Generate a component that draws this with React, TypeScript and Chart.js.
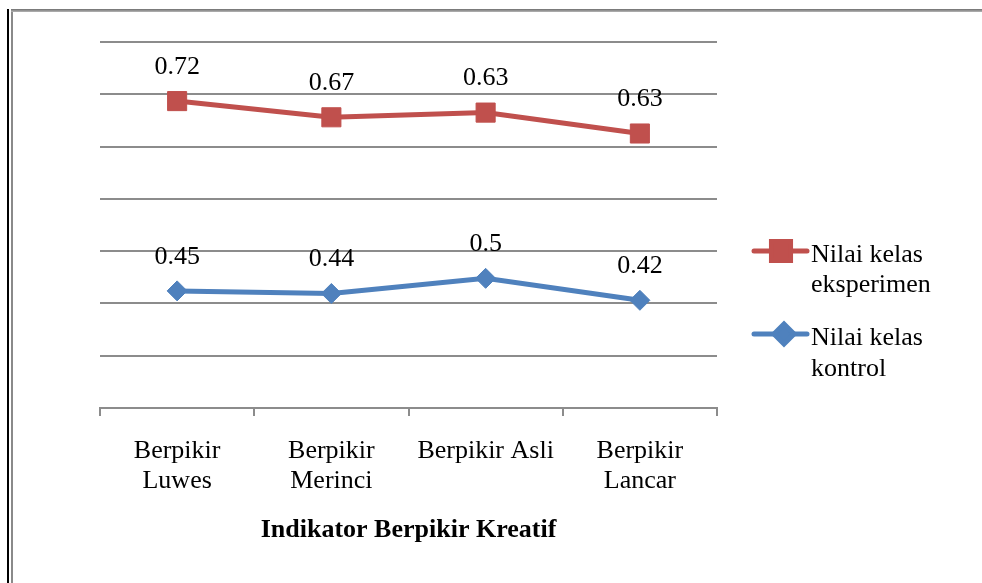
import React, { useEffect, useRef } from "react";
import { Chart, registerables } from "chart.js";
import { drawPoint } from "chart.js/helpers";

Chart.register(...registerables);

// ---- data ----
const categories: (string | string[])[] = [
  ["Berpikir", "Luwes"],
  ["Berpikir", "Merinci"],
  "Berpikir Asli",
  ["Berpikir", "Lancar"],
];
const seriesNames: string[][] = [
  ["Nilai kelas", "eksperimen"],
  ["Nilai kelas", "kontrol"],
];
const eksperimenValues = [0.587, 0.556, 0.565, 0.525];
const kontrolValues = [0.224, 0.219, 0.248, 0.206];
const eksperimenLabels = ["0.72", "0.67", "0.63", "0.63"];
const kontrolLabels = ["0.45", "0.44", "0.5", "0.42"];
const yMin = 0;
const yMax = 0.7;
const yStep = 0.1;
const axisTitle = "Indikator Berpikir Kreatif";

// ---- styles ----
const FONT = "'Liberation Serif', 'Times New Roman', serif";
const GRID = "#8c8c8c";
const RED = "#C0504D";
const BLUE = "#4F81BD";

const framePlugin = {
  id: "frame",
  beforeDraw(chart: any) {
    const ctx = chart.ctx;
    ctx.save();
    ctx.fillStyle = "#ffffff";
    ctx.fillRect(0, 0, chart.width, chart.height);
    ctx.fillStyle = "#000000";
    ctx.fillRect(7, 9, 2, chart.height - 9);
    ctx.fillStyle = "#8a8a8a";
    ctx.fillRect(11, 10, 2, chart.height - 10);
    const g = ctx.createLinearGradient(0, 9, 0, 12);
    g.addColorStop(0, "#6f6f6f");
    g.addColorStop(1, "#b5b5b5");
    ctx.fillStyle = g;
    ctx.fillRect(11, 9, chart.width - 11, 3);
    ctx.restore();
  },
};

const valueLabelPlugin = {
  id: "valueLabels",
  afterDatasetsDraw(chart: any) {
    const ctx = chart.ctx;
    ctx.save();
    ctx.font = `26px ${FONT}`;
    ctx.fillStyle = "#000000";
    ctx.textAlign = "center";
    ctx.textBaseline = "middle";
    chart.data.datasets.forEach((ds: any, di: number) => {
      const meta = chart.getDatasetMeta(di);
      meta.data.forEach((pt: any, i: number) => {
        ctx.fillText(ds.valueLabels[i], pt.x, pt.y - 34);
      });
    });
    ctx.restore();
  },
};

const legendPlugin = {
  id: "customLegend",
  afterDraw(chart: any) {
    const ctx = chart.ctx;
    const items = [
      { lineY: 251, markerX: 781, textBase: 261.5 },
      { lineY: 334, markerX: 784, textBase: 345 },
    ];
    ctx.save();
    chart.data.datasets.forEach((ds: any, di: number) => {
      const it = items[di];
      ctx.strokeStyle = ds.borderColor;
      ctx.lineWidth = 5;
      ctx.lineCap = "round";
      ctx.beginPath();
      ctx.moveTo(754, it.lineY);
      ctx.lineTo(807, it.lineY);
      ctx.stroke();
      ctx.fillStyle = ds.pointBackgroundColor;
      ctx.strokeStyle = ds.pointBorderColor;
      drawPoint(
        ctx,
        {
          pointStyle: ds.pointStyle,
          radius: ds.pointRadius,
          rotation: 0,
          borderWidth: ds.pointBorderWidth,
        },
        it.markerX,
        it.lineY
      );
      ctx.fillStyle = "#000000";
      ctx.font = `26px ${FONT}`;
      ctx.textAlign = "left";
      ctx.textBaseline = "alphabetic";
      ds.legendLines.forEach((line: string, li: number) => {
        ctx.fillText(line, 811, it.textBase + li * 30.5);
      });
    });
    ctx.restore();
  },
};

export default function App() {
  const ref = useRef<HTMLCanvasElement | null>(null);

  useEffect(() => {
    if (!ref.current) return;
    const chart = new Chart(ref.current, {
      type: "line",
      data: {
        labels: categories as any,
        datasets: [
          {
            label: seriesNames[0].join(" "),
            legendLines: seriesNames[0],
            valueLabels: eksperimenLabels,
            data: eksperimenValues,
            borderColor: RED,
            backgroundColor: RED,
            borderWidth: 5,
            pointStyle: "rect",
            pointRadius: 13.5,
            pointBorderWidth: 1,
            pointBackgroundColor: RED,
            pointBorderColor: RED,
            tension: 0,
          } as any,
          {
            label: seriesNames[1].join(" "),
            legendLines: seriesNames[1],
            valueLabels: kontrolLabels,
            data: kontrolValues,
            borderColor: BLUE,
            backgroundColor: BLUE,
            borderWidth: 5,
            pointStyle: "rectRot",
            pointRadius: 10,
            pointBorderWidth: 1,
            pointBackgroundColor: BLUE,
            pointBorderColor: BLUE,
            tension: 0,
          } as any,
        ],
      },
      options: {
        animation: false,
        responsive: false,
        devicePixelRatio: 1,
        layout: { padding: { left: 100, right: 265, top: 42, bottom: 37.4 } },
        plugins: {
          legend: { display: false },
          tooltip: { enabled: false },
        },
        scales: {
          x: {
            type: "category",
            offset: true,
            grid: {
              display: true,
              drawOnChartArea: false,
              drawTicks: true,
              tickLength: 8,
              offset: true,
              color: GRID,
              lineWidth: 2,
            },
            border: { display: true, color: GRID, width: 2 },
            ticks: {
              color: "#000000",
              font: { family: FONT, size: 26, lineHeight: 1.15 },
              padding: 20,
              maxRotation: 0,
              autoSkip: false,
            },
            title: {
              display: true,
              text: axisTitle,
              color: "#000000",
              font: { family: FONT, size: 26, weight: "bold", lineHeight: 1.2 },
              padding: { top: 0, bottom: 0 },
            },
            afterFit: (s: any) => {
              s.height = 137.6;
            },
          },
          y: {
            min: yMin,
            max: yMax,
            ticks: { display: false, stepSize: yStep },
            grid: { color: GRID, lineWidth: 2, drawTicks: false },
            border: { display: false },
            afterFit: (s: any) => {
              s.width = 0;
            },
          },
        },
      } as any,
      plugins: [framePlugin, valueLabelPlugin, legendPlugin],
    });
    return () => chart.destroy();
  }, []);

  return (
    <div style={{ position: "absolute", left: 0, top: 0, width: 982, height: 583 }}>
      <canvas ref={ref} width={982} height={583} style={{ display: "block" }} />
    </div>
  );
}
